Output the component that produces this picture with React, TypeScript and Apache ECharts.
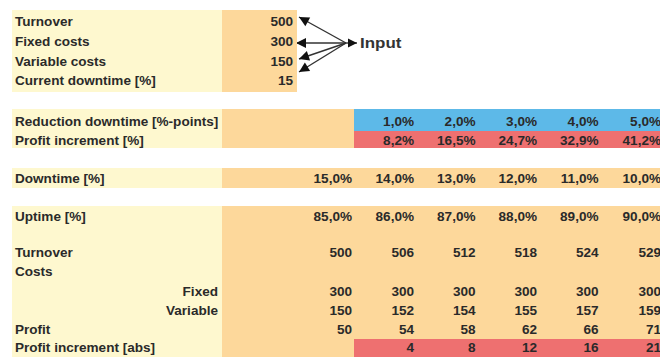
import React, { useEffect, useRef } from "react";
import * as echarts from "echarts";

// ---------- data ----------
const inputLabels = ["Turnover", "Fixed costs", "Variable costs", "Current downtime [%]"];
const inputValues = [500, 300, 150, 15];
const reductionPts = [1.0, 2.0, 3.0, 4.0, 5.0];
const profitIncPct = [8.2, 16.5, 24.7, 32.9, 41.2];
const downtimePct = [15.0, 14.0, 13.0, 12.0, 11.0, 10.0];
const uptimePct = [85.0, 86.0, 87.0, 88.0, 89.0, 90.0];
const turnover = [500, 506, 512, 518, 524, 529];
const fixedCosts = [300, 300, 300, 300, 300, 300];
const variableCosts = [150, 152, 154, 155, 157, 159];
const profit = [50, 54, 58, 62, 66, 71];
const profitIncAbs = [4, 8, 12, 16, 21];

// ---------- layout ----------
const W = 660;
const H = 357;
const LABEL_X = 15;
const SUB_LABEL_RIGHT = 218;
const INPUT_RIGHT = 293;
const COL_RIGHT = [352, 414, 475.5, 537, 598.5, 661];
const INPUT_ROW_Y = [22, 42, 62, 81];
const Y = {
  reduction: 122,
  profitInc: 141,
  downtime: 179,
  uptime: 217,
  turnover: 253,
  costs: 272,
  fixed: 292,
  variable: 311,
  profit: 330,
  incAbs: 348,
};
const YELLOW = "#fef8cf";
const ORANGE = "#fdd89b";
const BLUE = "#5db9e8";
const RED = "#ee7070";
const TXT = "#2a2a2a";
const FONT = 'bold 12px "Liberation Sans", Arial, sans-serif';
const STRETCH = 1.13;

const pct = (v: number) => v.toFixed(1).replace(".", ",") + "%";

type Rect = [number, number, number, number, string];
const rects: Rect[] = [
  [12, 10, 222, 92, YELLOW],
  [222, 10, 297, 92, ORANGE],
  [12, 109, 222, 148, YELLOW],
  [222, 109, 354, 148, ORANGE],
  [354, 109, 660, 131, BLUE],
  [354, 131, 660, 148, RED],
  [12, 168, 222, 188, YELLOW],
  [222, 168, 660, 188, ORANGE],
  [12, 206, 222, 357, YELLOW],
  [222, 206, 660, 357, ORANGE],
  [354, 339, 660, 357, RED],
];

type Txt = [number, number, string, string];
const texts: Txt[] = [];
inputLabels.forEach((l, i) => {
  texts.push([LABEL_X, INPUT_ROW_Y[i], l, "left"]);
  texts.push([INPUT_RIGHT, INPUT_ROW_Y[i], String(inputValues[i]), "right"]);
});
const addRow = (y: number, label: string, labelRight: boolean, vals: string[], startCol: number) => {
  if (label) texts.push([labelRight ? SUB_LABEL_RIGHT : LABEL_X, y, label, labelRight ? "right" : "left"]);
  vals.forEach((v, i) => texts.push([COL_RIGHT[startCol + i], y, v, "right"]));
};
addRow(Y.reduction, "Reduction downtime [%-points]", false, reductionPts.map(pct), 1);
addRow(Y.profitInc, "Profit increment [%]", false, profitIncPct.map(pct), 1);
addRow(Y.downtime, "Downtime [%]", false, downtimePct.map(pct), 0);
addRow(Y.uptime, "Uptime [%]", false, uptimePct.map(pct), 0);
addRow(Y.turnover, "Turnover", false, turnover.map(String), 0);
addRow(Y.costs, "Costs", false, [], 0);
addRow(Y.fixed, "Fixed", true, fixedCosts.map(String), 0);
addRow(Y.variable, "Variable", true, variableCosts.map(String), 0);
addRow(Y.profit, "Profit", false, profit.map(String), 0);
addRow(Y.incAbs, "Profit increment [abs]", false, profitIncAbs.map(String), 1);

// arrows
const CONV: [number, number] = [346, 43];
const ARROW_TIPS: [number, number][] = [
  [299, 17],
  [296, 43],
  [299, 59],
  [299, 72],
];
const INPUT_TIP: [number, number] = [357, 43];

function arrowHead(from: [number, number], tip: [number, number], len = 10, half = 5) {
  const dx = tip[0] - from[0];
  const dy = tip[1] - from[1];
  const d = Math.hypot(dx, dy) || 1;
  const ux = dx / d, uy = dy / d;
  const bx = tip[0] - ux * len, by = tip[1] - uy * len;
  return [
    [tip[0], tip[1]],
    [bx - uy * half, by + ux * half],
    [bx + uy * half, by - ux * half],
  ];
}

export default function App() {
  const ref = useRef<HTMLDivElement>(null);
  useEffect(() => {
    document.body.style.margin = "0";
    const chart = echarts.init(ref.current!, null, { renderer: "svg" });
    const graphics: any[] = [];
    ARROW_TIPS.forEach((t) => {
      graphics.push({
        type: "line",
        shape: { x1: CONV[0], y1: CONV[1], x2: t[0], y2: t[1] },
        style: { stroke: "#333", lineWidth: 1.4 },
      });
      graphics.push({
        type: "polygon",
        shape: { points: arrowHead(CONV, t) },
        style: { fill: "#111" },
      });
    });
    graphics.push({
      type: "line",
      shape: { x1: CONV[0], y1: CONV[1], x2: INPUT_TIP[0], y2: INPUT_TIP[1] },
      style: { stroke: "#333", lineWidth: 1.4 },
    });
    graphics.push({
      type: "polygon",
      shape: { points: arrowHead(CONV, INPUT_TIP, 9, 4.5) },
      style: { fill: "#111" },
    });
    graphics.push({
      type: "text",
      x: 360,
      y: 43,
      scaleX: STRETCH,
      style: {
        text: "Input",
        font: 'bold 15px "Liberation Sans", Arial, sans-serif',
        fill: "#333",
        textVerticalAlign: "middle",
      },
    });

    chart.setOption({
      animation: false,
      grid: { left: 0, right: 0, top: 0, bottom: 0 },
      xAxis: { type: "value", min: 0, max: W, show: false },
      yAxis: { type: "value", min: 0, max: H, inverse: true, show: false },
      series: [
        {
          type: "custom",
          silent: true,
          data: rects.map((r) => [r[0], r[1], r[2], r[3]]),
          renderItem: (params: any, api: any) => {
            const r = rects[params.dataIndex];
            const p0 = api.coord([api.value(0), api.value(1)]);
            const p1 = api.coord([api.value(2), api.value(3)]);
            return {
              type: "rect",
              shape: { x: p0[0], y: p0[1], width: p1[0] - p0[0], height: p1[1] - p0[1] },
              style: { fill: r[4] },
            };
          },
        },
        {
          type: "custom",
          silent: true,
          data: texts.map((t) => [t[0], t[1]]),
          renderItem: (params: any, api: any) => {
            const t = texts[params.dataIndex];
            const p = api.coord([api.value(0), api.value(1)]);
            return {
              type: "text",
              x: p[0],
              y: p[1],
              scaleX: STRETCH,
              style: {
                text: t[2],
                textAlign: t[3],
                textVerticalAlign: "middle",
                font: FONT,
                fill: TXT,
              },
            };
          },
        },
      ],
      graphic: graphics,
    });
    return () => chart.dispose();
  }, []);
  return <div ref={ref} style={{ width: W, height: H }} />;
}
